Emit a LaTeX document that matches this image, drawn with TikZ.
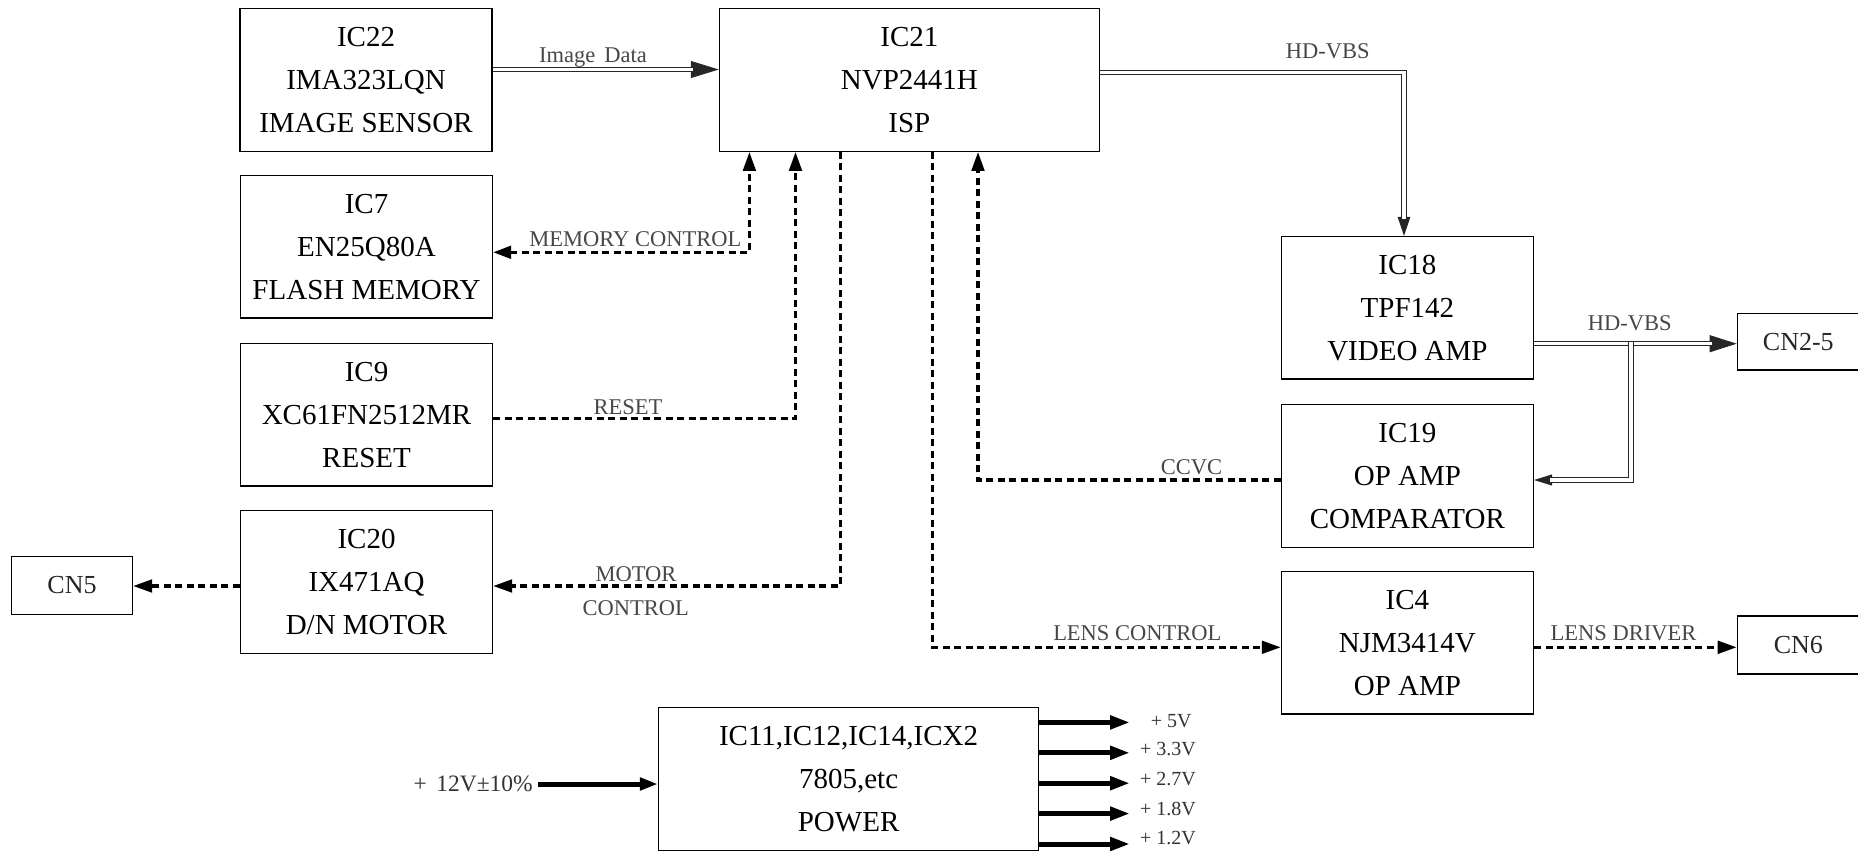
\documentclass[tikz,border=0pt]{standalone}
\usepackage{fontspec}
\setmainfont{Liberation Serif}
\usetikzlibrary{arrows.meta}
\begin{document}
\begin{tikzpicture}[x=1pt,y=-1pt,
  box/.style={draw, line width=1.3pt, minimum width=252pt, minimum height=142.6pt, inner sep=0pt, align=center, font=\fontsize{29}{43}\selectfont},
  widebox/.style={box, minimum width=380pt},
  cnbox/.style={draw, line width=1.3pt, minimum width=121pt, minimum height=57.6pt, inner sep=0pt, font=\fontsize{26}{30}\selectfont, text=black!85},
  lbl/.style={font=\fontsize{22.5}{24}\selectfont, text=black!72, inner sep=0pt, anchor=base},
  vlbl/.style={font=\fontsize{20}{22}\selectfont, text=black!80, inner sep=0pt, anchor=base west},
  dsh/.style={line width=3.2pt, dash pattern=on 7pt off 4.5pt},
  dtip/.style={-{Triangle[length=19pt,width=12.6pt]}},
  dbl/.style={draw=black!85, line width=0.9pt, double=white, double distance=3.4pt},
  thn/.style={draw=black!85, line width=0.9pt},
  thk/.style={line width=5pt, -{Triangle[length=20pt,width=13pt]}},
]
\useasboundingbox (0,0) rectangle (1858,851);

% boxes
\node[box] (ic22) at (366,80) {IC22\\IMA323LQN\\IMAGE SENSOR};
\node[box] (ic7) at (366.5,246.8) {IC7\\EN25Q80A\\FLASH MEMORY};
\node[box] (ic9) at (366.5,414.7) {IC9\\XC61FN2512MR\\RESET};
\node[box] (ic20) at (366.5,582) {IC20\\IX471AQ\\D/N MOTOR};
\node[cnbox] (cn5) at (72,585.5) {CN5};
\node[widebox] (ic21) at (909.4,80) {IC21\\NVP2441H\\ISP};
\node[box] (ic18) at (1407.4,307.8) {IC18\\TPF142\\VIDEO AMP};
\node[cnbox, minimum width=122pt, minimum height=56.7pt] (cn2) at (1798.3,341.7) {CN2-5};
\node[box] (ic19) at (1407.4,476) {IC19\\OP AMP\\COMPARATOR};
\node[box] (ic4) at (1407.4,642.7) {IC4\\NJM3414V\\OP AMP};
\node[cnbox, minimum width=122pt, minimum height=58pt] (cn6) at (1798.3,645) {CN6};
\node[widebox, minimum height=143pt] (pwr) at (848.6,778.8) {IC11,IC12,IC14,ICX2\\7805,etc\\POWER};

% Image Data
\coordinate (yImg) at (0,69.5);
\draw[thn, -{Triangle[length=28pt,width=17pt]}] (ic22.east |- yImg) -- (ic21.west |- yImg);
\draw[dbl, shorten >=26pt] (ic22.east |- yImg) -- (ic21.west |- yImg);
\node[lbl] (lImg) at (593,63) {Image\hspace{0.15em} Data};

% HD-VBS from IC21 to IC18
\coordinate (hvA) at (1404,72.7);
\draw[thn, -{Triangle[length=19pt,width=12.6pt]}] (ic21.east |- hvA) -- (hvA) -- (hvA |- ic18.north);
\draw[dbl, shorten >=17pt] (ic21.east |- hvA) -- (hvA) -- (hvA |- ic18.north);
\node[lbl] (lHv1) at (1327.7,58.3) {HD-VBS};

% HD-VBS from IC18 to CN2-5 and IC19
\coordinate (yHv2) at (0,343.7);
\coordinate (jn) at (1631,342.0);
\coordinate (jb) at (1631,480);
\draw[thn, -{Triangle[length=18pt,width=11pt]}] (jn) -- (jb) -- (ic19.east |- jb);
\draw[thn, -{Triangle[length=27pt,width=17pt]}] (ic18.east |- yHv2) -- (cn2.west |- yHv2);
\draw[dbl, shorten >=25pt] (ic18.east |- yHv2) -- (cn2.west |- yHv2);
\draw[dbl, shorten >=16pt] (jn) -- (jb) -- (ic19.east |- jb);
\node[lbl] (lHv2) at (1629.8,330) {HD-VBS};

% MEMORY CONTROL
\coordinate (mc) at (749.4,252.3);
\draw[dsh, {Triangle[length=18pt,width=12.6pt]}-{Triangle[length=19pt,width=12.6pt]}] (ic7.east |- mc) -- (mc) -- (mc |- ic21.south);
\node[lbl] (lMc) at (635.4,246.7) {MEMORY CONTROL};

% RESET
\coordinate (rs) at (795.5,418.3);
\draw[dsh, dtip] (ic9.east |- rs) -- (rs) -- (rs |- ic21.south);
\node[lbl] (lRs) at (628,414.3) {RESET};

% MOTOR CONTROL
\coordinate (mt) at (840.6,586);
\draw[dsh, dtip] (mt |- ic21.south) -- (mt) -- (ic20.east |- mt);
\node[lbl] (lMt1) at (636,581) {MOTOR};
\node[lbl] (lMt2) at (635.7,615.7) {CONTROL};

% to CN5
\draw[dsh, dtip] (ic20.west |- mt) -- (cn5.east |- mt);

% CCVC
\coordinate (cc) at (978,480);
\draw[dsh, dtip] (ic19.west |- cc) -- (cc) -- (cc |- ic21.south);
\node[lbl] (lCc) at (1191.6,474) {CCVC};

% LENS CONTROL
\coordinate (lc) at (932.3,647.3);
\draw[dsh, dtip] (lc |- ic21.south) -- (lc) -- (ic4.west |- lc);
\node[lbl] (lLc) at (1137.3,640.7) {LENS CONTROL};

% LENS DRIVER
\draw[dsh, dtip] (ic4.east |- lc) -- (cn6.west |- lc);
\node[lbl] (lLd) at (1623.5,640.7) {LENS DRIVER};

% power input
\coordinate (pin) at (538,784);
\draw[thk, -{Triangle[length=18pt,width=12pt]}] (pin) -- (pwr.west |- pin);
\node[lbl, anchor=base east, text=black!80, font=\fontsize{23.5}{25}\selectfont] (lIn) at (533,791.5) {+\hspace{0.4em}12V±10\%};

% power outputs
\coordinate (o1) at (1130,722.4);
\coordinate (o2) at (1130,752.8);
\coordinate (o3) at (1130,783.2);
\coordinate (o4) at (1130,813.6);
\coordinate (o5) at (1130,844);
\draw[thk] (pwr.east |- o1) -- (o1);
\draw[thk] (pwr.east |- o2) -- (o2);
\draw[thk] (pwr.east |- o3) -- (o3);
\draw[thk] (pwr.east |- o4) -- (o4);
\draw[thk] (pwr.east |- o5) -- (o5);
\node[vlbl] (v1) at (1150.7,727) {+ 5V};
\node[vlbl] (v2) at (1140,755.5) {+ 3.3V};
\node[vlbl] (v3) at (1140,785.5) {+ 2.7V};
\node[vlbl] (v4) at (1140,815) {+ 1.8V};
\node[vlbl] (v5) at (1140,844) {+ 1.2V};
\end{tikzpicture}
\end{document}
